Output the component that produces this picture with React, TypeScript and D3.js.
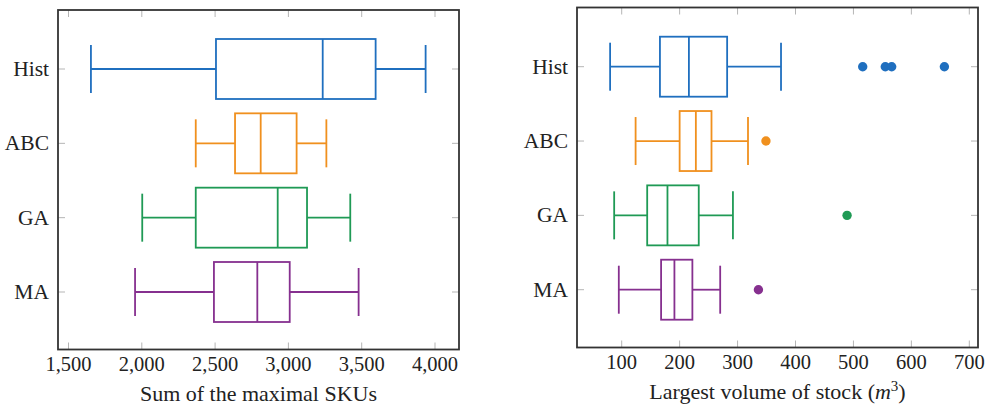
import * as d3 from "d3";

// methods, top to bottom
const methods = ["Hist", "ABC", "GA", "MA"];
const colors = ["#1f6fbf", "#f0901e", "#1f9a55", "#86308f"];

// left panel: sum of the maximal SKUs  [low whisker, q1, median, q3, high whisker]
const skuStats = [
  [1653, 2506, 3234, 3595, 3936],
  [2368, 2636, 2811, 3056, 3259],
  [2003, 2368, 2927, 3127, 3422],
  [1954, 2492, 2788, 3009, 3479],
];
const skuOutliers: number[][] = [[], [], [], []];
const skuTicks = [1500, 2000, 2500, 3000, 3500, 4000];

// right panel: largest volume of stock (m^3)
const volStats = [
  [80, 166, 216, 282, 375],
  [124, 200, 228, 255, 318],
  [87, 144, 179, 233, 292],
  [95, 168, 191, 222, 270],
];
const volOutliers = [[516, 555, 566, 657], [349], [489], [336]];
const volTicks = [100, 200, 300, 400, 500, 600, 700];

const FONT = "Liberation Serif";
const TICK = "#b5b5b5";
const INK = "#222";

type Frame = { left: number; right: number; top: number; bottom: number };

const Panel = ({ frame, xPx, yPx, stats, outliers, ticks, fmt, children }: {
  frame: Frame; xPx: [number, number]; yPx: [number, number];
  stats: number[][]; outliers: number[][]; ticks: number[];
  fmt: (v: number) => string; children: any;
}) => {
  const x = d3.scaleLinear().domain([ticks[0], ticks[ticks.length - 1]]).range(xPx);
  const y = d3.scalePoint<string>().domain(methods).range(yPx);
  const tl = 7;
  const bh = 30; // half box height
  const wh = 24; // half whisker cap
  return (
    <g>
      {ticks.map((t) => (
        <g key={t}>
          <line x1={x(t)} x2={x(t)} y1={frame.bottom} y2={frame.bottom - tl} stroke={TICK} />
          <line x1={x(t)} x2={x(t)} y1={frame.top} y2={frame.top + tl} stroke={TICK} />
          <text x={x(t)} y={frame.bottom + 21} textAnchor="middle" fontFamily={FONT} fontSize={20.5} fill={INK}>
            {fmt(t)}
          </text>
        </g>
      ))}
      {methods.map((m) => {
        const yy = y(m)!;
        return (
          <g key={m}>
            <line x1={frame.left} x2={frame.left + tl} y1={yy} y2={yy} stroke={TICK} />
            <line x1={frame.right} x2={frame.right - tl} y1={yy} y2={yy} stroke={TICK} />
            <text x={frame.left - 9} y={yy} dy="0.33em" textAnchor="end" fontFamily={FONT} fontSize={21.5} fill={INK}>
              {m}
            </text>
          </g>
        );
      })}
      {stats.map((s, i) => {
        const yy = y(methods[i])!;
        const c = colors[i];
        return (
          <g key={i}>
            <g stroke={c} strokeWidth={1.8} fill="none">
              <line x1={x(s[0])} x2={x(s[1])} y1={yy} y2={yy} />
              <line x1={x(s[3])} x2={x(s[4])} y1={yy} y2={yy} />
              <line x1={x(s[0])} x2={x(s[0])} y1={yy - wh} y2={yy + wh} />
              <line x1={x(s[4])} x2={x(s[4])} y1={yy - wh} y2={yy + wh} />
              <rect x={x(s[1])} y={yy - bh} width={x(s[3]) - x(s[1])} height={bh * 2} />
              <line x1={x(s[2])} x2={x(s[2])} y1={yy - bh} y2={yy + bh} />
            </g>
            {outliers[i].map((o, j) => (
              <circle key={j} cx={x(o)} cy={yy} r={4.7} fill={c} />
            ))}
          </g>
        );
      })}
      <rect x={frame.left} y={frame.top} width={frame.right - frame.left} height={frame.bottom - frame.top}
        fill="none" stroke="#333" strokeWidth={1.8} />
      <text x={(frame.left + frame.right) / 2} y={frame.bottom + 51} textAnchor="middle"
        fontFamily={FONT} fontSize={22} fill={INK}>
        {children}
      </text>
    </g>
  );
};

const App = () => (
  <svg width={989} height={407} style={{ position: "absolute", left: 0, top: 0, background: "#fff" }}>
    <Panel frame={{ left: 58, right: 459, top: 10, bottom: 349.5 }} xPx={[68.5, 435]} yPx={[69, 292]}
      stats={skuStats} outliers={skuOutliers} ticks={skuTicks} fmt={d3.format(",")}>
      Sum of the maximal SKUs
    </Panel>
    <Panel frame={{ left: 577, right: 978, top: 7.5, bottom: 347.5 }} xPx={[621.7, 969.3]} yPx={[66.7, 289.7]}
      stats={volStats} outliers={volOutliers} ticks={volTicks} fmt={(v) => String(v)}>
      <tspan>Largest volume of stock (</tspan>
      <tspan fontStyle="italic">m</tspan>
      <tspan dy={-8} fontSize={15}>3</tspan>
      <tspan dy={8}>)</tspan>
    </Panel>
  </svg>
);

export default App;
